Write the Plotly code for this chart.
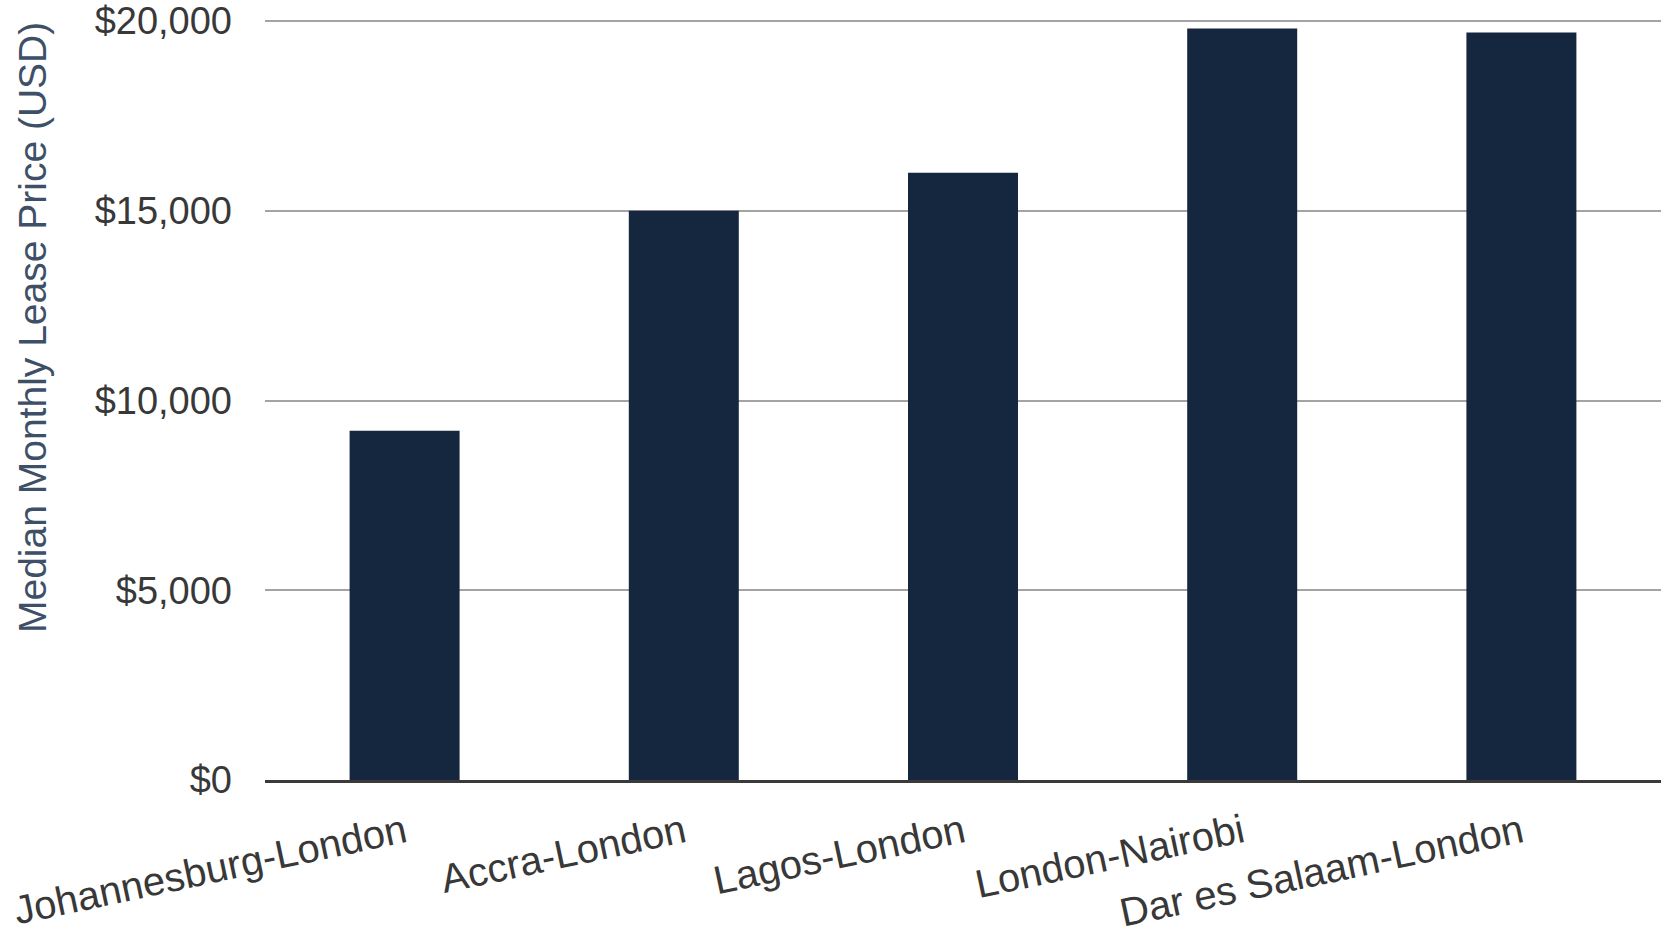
import plotly.graph_objects as go

routes = ["Johannesburg-London", "Accra-London", "Lagos-London", "London-Nairobi", "Dar es Salaam-London"]
lease_price = [9200, 15000, 16000, 19800, 19700]
y_ticks = [0, 5000, 10000, 15000, 20000]
y_tick_labels = ["$0", "$5,000", "$10,000", "$15,000", "$20,000"]

FONT = "Liberation Sans, Arial, sans-serif"

fig = go.Figure(go.Bar(
    x=routes,
    y=lease_price,
    marker=dict(color="#15273f", line=dict(width=0)),
))

fig.update_layout(
    width=1663, height=937,
    margin=dict(l=265, r=2, t=19, b=157, autoexpand=False),
    paper_bgcolor="white", plot_bgcolor="white",
    bargap=0.606,
    showlegend=False,
    font=dict(family=FONT, size=36, color="#333333"),
)

fig.update_xaxes(
    tickangle=-12,
    tickfont=dict(family=FONT, size=40, color="#383838"),
    showline=True, linecolor="#3a3a3a", linewidth=2.5,
    showgrid=False, ticks="", automargin=False,
    ticklabelstandoff=11,
)

fig.update_yaxes(
    range=[0, 20053],
    tickvals=y_ticks, ticktext=y_tick_labels,
    tickfont=dict(family=FONT, size=38, color="#383838"),
    showgrid=True, gridcolor="#a3a3a3", gridwidth=2,
    zeroline=False, showline=False, ticks="",
    ticklabelstandoff=32, automargin=False,
)

fig.add_annotation(
    text="Median Monthly Lease Price (USD)",
    xref="paper", yref="paper",
    x=(32 - 265) / 1396, y=(780 - 328) / 761,
    textangle=-90, showarrow=False,
    font=dict(family=FONT, size=39, color="#3d5068"),
    xanchor="center", yanchor="middle",
)

fig.write_html(
    "out.html",
    config={"displayModeBar": False},
    post_script="document.body.style.margin='0';document.body.style.overflow='hidden';",
)
